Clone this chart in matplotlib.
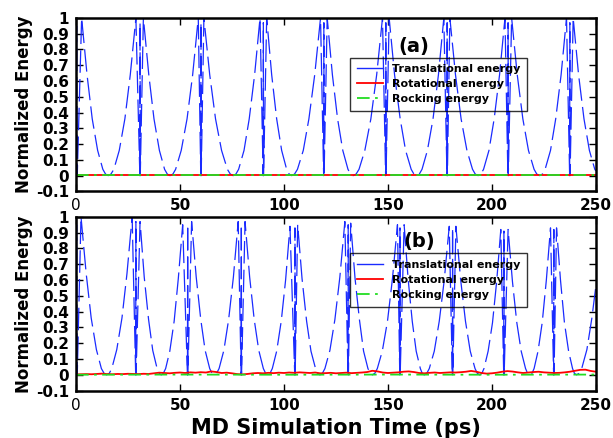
import matplotlib
matplotlib.use("Agg")
import matplotlib.pyplot as plt
from matplotlib.lines import Line2D

plt.rcParams.update({"font.family": "DejaVu Sans", "font.weight": "bold"})

# ---- data ----
# panel (a): translational energy (time in ps, normalized energy)
trans_a_t = [0, 0.3, 0.6, 2.7,
             5.3, 7.8, 10.4, 12.9, 14.2, 15.5, 16.8, 18.2, 20.8, 23.5, 26.1, 28.8, 30.7, 30.8, 30.9, 32.4,
             35.0, 37.5, 40.1, 42.6, 43.9, 45.2, 46.6, 47.9, 50.6, 53.4, 56.1, 58.8, 60.0, 60.1, 60.2, 61.5,
             64.3, 67.1, 70.0, 72.8, 74.2, 75.6, 76.9, 78.2, 80.8, 83.3, 85.9, 88.5, 90.0, 90.1, 90.2, 91.7,
             94.1, 96.5, 98.9, 101.3, 102.5, 103.7, 105.1, 106.5, 109.3, 112.0, 114.8, 117.6, 119.1, 119.2, 119.3, 120.8,
             123.3, 125.8, 128.3, 130.8, 132.0, 133.3, 134.7, 136.1, 138.9, 141.8, 144.6, 147.4, 148.9, 149.0, 149.1, 150.6,
             153.2, 155.9, 158.5, 161.2, 162.5, 163.8, 165.1, 166.4, 169.0, 171.7, 174.3, 176.9, 178.4, 178.5, 178.6, 179.8,
             182.5, 185.2, 188.0, 190.7, 192.0, 193.4, 194.7, 196.0, 198.6, 201.1, 203.7, 206.3, 207.7, 207.8, 207.9, 209.5,
             212.2, 214.9, 217.6, 220.3, 221.6, 223.0, 224.3, 225.6, 228.2, 230.7, 233.3, 235.9, 237.4, 237.5, 237.6, 239.1,
             241.7, 244.3, 246.9, 249.5, 250.0]
trans_a_e = [0.0, 0.95, 0.0, 1.0,
             0.64, 0.36, 0.16, 0.04, 0.01, 0.0, 0.01, 0.04, 0.16, 0.36, 0.64, 1.0, 0.0, 0.97, 0.0, 1.0,
             0.64, 0.36, 0.16, 0.04, 0.01, 0.0, 0.01, 0.04, 0.16, 0.36, 0.64, 1.0, 0.0, 0.97, 0.0, 1.0,
             0.64, 0.36, 0.16, 0.04, 0.01, 0.0, 0.01, 0.04, 0.16, 0.36, 0.64, 1.0, 0.0, 0.97, 0.0, 1.0,
             0.64, 0.36, 0.16, 0.04, 0.01, 0.0, 0.01, 0.04, 0.16, 0.36, 0.64, 1.0, 0.0, 0.97, 0.0, 1.0,
             0.64, 0.36, 0.16, 0.04, 0.01, 0.0, 0.01, 0.04, 0.16, 0.36, 0.64, 1.0, 0.0, 0.97, 0.0, 1.0,
             0.64, 0.36, 0.16, 0.04, 0.01, 0.0, 0.01, 0.04, 0.16, 0.36, 0.64, 1.0, 0.0, 0.97, 0.0, 1.0,
             0.64, 0.36, 0.16, 0.04, 0.01, 0.0, 0.01, 0.04, 0.16, 0.36, 0.64, 1.0, 0.0, 0.97, 0.0, 1.0,
             0.64, 0.36, 0.16, 0.04, 0.01, 0.0, 0.01, 0.04, 0.16, 0.36, 0.64, 1.0, 0.0, 0.97, 0.0, 1.0,
             0.64, 0.36, 0.16, 0.04, 0.03]
rot_a_t = [0, 50, 100, 150, 200, 250]
rot_a_e = [0.002, 0.002, 0.002, 0.002, 0.002, 0.002]
rock_a_t = [0, 50, 100, 150, 200, 250]
rock_a_e = [0.001, 0.001, 0.001, 0.001, 0.001, 0.001]

# panel (b)
trans_b_t = [0, 0.3, 0.6, 2.4,
             4.9, 7.3, 9.8, 12.2, 13.5, 14.7, 16.0, 17.2, 19.6, 22.1, 24.5, 27.0, 28.7, 28.8, 28.9, 30.8,
             32.8, 34.9, 36.9, 39.0, 40.0, 41.0, 42.0, 43.1, 45.1, 47.2, 49.2, 51.3, 53.6, 53.7, 53.8, 55.6,
             57.8, 60.0, 62.1, 64.3, 65.4, 66.5, 67.6, 68.8, 71.1, 73.4, 75.7, 78.0, 79.4, 79.5, 79.6, 81.3,
             83.5, 85.7, 87.9, 90.1, 91.2, 92.3, 93.3, 94.4, 96.5, 98.7, 100.8, 102.9, 105.2, 105.3, 105.4, 106.6,
             108.7, 110.9, 113.0, 115.2, 116.2, 117.3, 118.5, 119.7, 122.1, 124.5, 126.9, 129.3, 130.8, 130.9, 131.0, 132.1,
             134.2, 136.3, 138.3, 140.4, 141.5, 142.5, 143.7, 144.9, 147.3, 149.8, 152.2, 154.6, 155.7, 155.8, 155.9, 157.8,
             159.7, 161.7, 163.6, 165.6, 166.5, 167.5, 168.7, 169.9, 172.3, 174.7, 177.1, 179.5, 181.0, 181.1, 181.2, 182.7,
             185.0, 187.3, 189.6, 191.9, 193.0, 194.2, 195.2, 196.2, 198.2, 200.3, 202.3, 204.3, 205.7, 205.8, 205.9, 207.8,
             209.9, 212.0, 214.1, 216.2, 217.2, 218.3, 219.3, 220.3, 222.2, 224.2, 226.2, 228.2, 229.7, 229.8, 229.9, 231.1,
             233.0, 234.9, 236.9, 238.8, 239.7, 240.7, 242.0, 243.2, 245.7, 248.1, 250.0]
trans_b_e = [0.0, 0.95, 0.0, 1.0,
             0.64, 0.36, 0.16, 0.04, 0.01, 0.0, 0.01, 0.04, 0.16, 0.36, 0.64, 1.0, 0.0, 0.97, 0.0, 0.97,
             0.62, 0.35, 0.155, 0.04, 0.01, 0.0, 0.01, 0.04, 0.15, 0.34, 0.61, 0.95, 0.0, 0.95, 0.0, 0.97,
             0.62, 0.35, 0.155, 0.04, 0.01, 0.0, 0.01, 0.04, 0.155, 0.35, 0.62, 0.97, 0.0, 0.95, 0.0, 0.97,
             0.62, 0.35, 0.155, 0.04, 0.01, 0.0, 0.01, 0.04, 0.15, 0.34, 0.60, 0.94, 0.0, 0.93, 0.0, 0.95,
             0.61, 0.34, 0.15, 0.04, 0.01, 0.0, 0.01, 0.04, 0.155, 0.35, 0.62, 0.97, 0.0, 0.95, 0.0, 0.96,
             0.61, 0.35, 0.15, 0.04, 0.01, 0.0, 0.01, 0.04, 0.15, 0.34, 0.61, 0.95, 0.0, 0.93, 0.0, 0.95,
             0.61, 0.34, 0.15, 0.04, 0.01, 0.0, 0.01, 0.04, 0.15, 0.34, 0.60, 0.94, 0.0, 0.93, 0.0, 0.94,
             0.60, 0.34, 0.15, 0.04, 0.01, 0.0, 0.01, 0.04, 0.15, 0.33, 0.59, 0.92, 0.0, 0.91, 0.0, 0.92,
             0.59, 0.33, 0.15, 0.04, 0.01, 0.0, 0.01, 0.04, 0.15, 0.33, 0.60, 0.93, 0.0, 0.92, 0.0, 0.93,
             0.60, 0.33, 0.15, 0.04, 0.01, 0.0, 0.01, 0.04, 0.16, 0.36, 0.56]
# rotational energy (b), sampled every 2.5 ps
rot_b_t = [i * 2.5 for i in range(101)]
rot_b_e = [0.003, 0.004, 0.005, 0.004, 0.006, 0.008, 0.005, 0.004, 0.006, 0.005,
           0.007, 0.006, 0.005, 0.007, 0.006, 0.010, 0.014, 0.012, 0.010, 0.013,
           0.015, 0.012, 0.016, 0.014, 0.017, 0.015, 0.022, 0.018, 0.012, 0.014,
           0.010, 0.005, 0.003, 0.006, 0.010, 0.012, 0.010, 0.013, 0.011, 0.014,
           0.012, 0.015, 0.013, 0.016, 0.014, 0.012, 0.015, 0.010, 0.011, 0.013,
           0.010, 0.012, 0.014, 0.011, 0.013, 0.015, 0.018, 0.026, 0.022, 0.015,
           0.012, 0.014, 0.016, 0.020, 0.022, 0.018, 0.012, 0.010, 0.013, 0.015,
           0.012, 0.014, 0.016, 0.015, 0.017, 0.020, 0.025, 0.020, 0.012, 0.008,
           0.010, 0.014, 0.020, 0.024, 0.021, 0.016, 0.012, 0.015, 0.018, 0.020,
           0.016, 0.014, 0.012, 0.013, 0.016, 0.020, 0.026, 0.032, 0.033, 0.025,
           0.020]
rock_b_t = [0, 50, 100, 150, 200, 250]
rock_b_e = [0.001, 0.002, 0.001, 0.002, 0.001, 0.002]

labels = ["Translational energy", "Rotational energy", "Rocking energy"]
yticks = [-0.1, 0, 0.1, 0.2, 0.3, 0.4, 0.5, 0.6, 0.7, 0.8, 0.9, 1]
ytick_labels = ["-0.1", "0", "0.1", "0.2", "0.3", "0.4", "0.5", "0.6", "0.7", "0.8", "0.9", "1"]
xticks = [0, 50, 100, 150, 200, 250]

BLUE = "#1a2bff"
GREEN = "#22dd22"

fig = plt.figure(figsize=(6.13, 4.38), dpi=100)
ax_a = fig.add_axes([0.124, 0.563, 0.848, 0.396])
ax_b = fig.add_axes([0.124, 0.108, 0.848, 0.397])

panels = [
    (ax_a, trans_a_t, trans_a_e, rot_a_t, rot_a_e, rock_a_t, rock_a_e, "(a)", 0.771, 0.65, 0.835),
    (ax_b, trans_b_t, trans_b_e, rot_b_t, rot_b_e, rock_b_t, rock_b_e, "(b)", 0.789, 0.66, 0.86),
]

for ax, tt, te, rt, re, kt, ke, tag, leg_y, tag_x, tag_y in panels:
    ax.plot(tt, te, color=BLUE, lw=0.9, dashes=(18, 5))
    ax.plot(rt, re, color="red", lw=1.3)
    ax.plot(kt, ke, color=GREEN, lw=1.3, dashes=(7, 3, 1.5, 3))
    ax.set_xlim(0, 250)
    ax.set_ylim(-0.1, 1)
    ax.set_yticks(yticks)
    ax.set_yticklabels(ytick_labels)
    ax.set_xticks(xticks)
    ax.tick_params(direction="in", length=5, width=1, top=True, right=True,
                   labelsize=11, pad=5)
    ax.get_xticklabels()[0].set_fontweight("normal")
    for s in ax.spines.values():
        s.set_linewidth(1.8)
    ax.set_ylabel("Normalized Energy", fontsize=12, fontweight="bold", labelpad=2)
    ax.text(tag_x, tag_y, tag, transform=ax.transAxes,
            fontsize=14, fontweight="bold", ha="center", va="center")
    handles = [Line2D([], [], color=BLUE, lw=1.0),
               Line2D([], [], color="red", lw=1.3),
               Line2D([], [], color=GREEN, lw=1.3, dashes=(7, 3, 1.5, 3))]
    leg = ax.legend(handles, labels, loc="upper left", bbox_to_anchor=(0.527, leg_y),
                    borderaxespad=0, prop={"weight": "bold", "size": 8},
                    fancybox=False, edgecolor="black", facecolor="none",
                    handlelength=2.4, handletextpad=0.8, labelspacing=0.45,
                    borderpad=0.6)
    leg.get_frame().set_linewidth(1.0)

ax_b.set_xlabel("MD Simulation Time (ps)", fontsize=15, fontweight="bold", labelpad=4)

fig.savefig("out.png", dpi=100)
